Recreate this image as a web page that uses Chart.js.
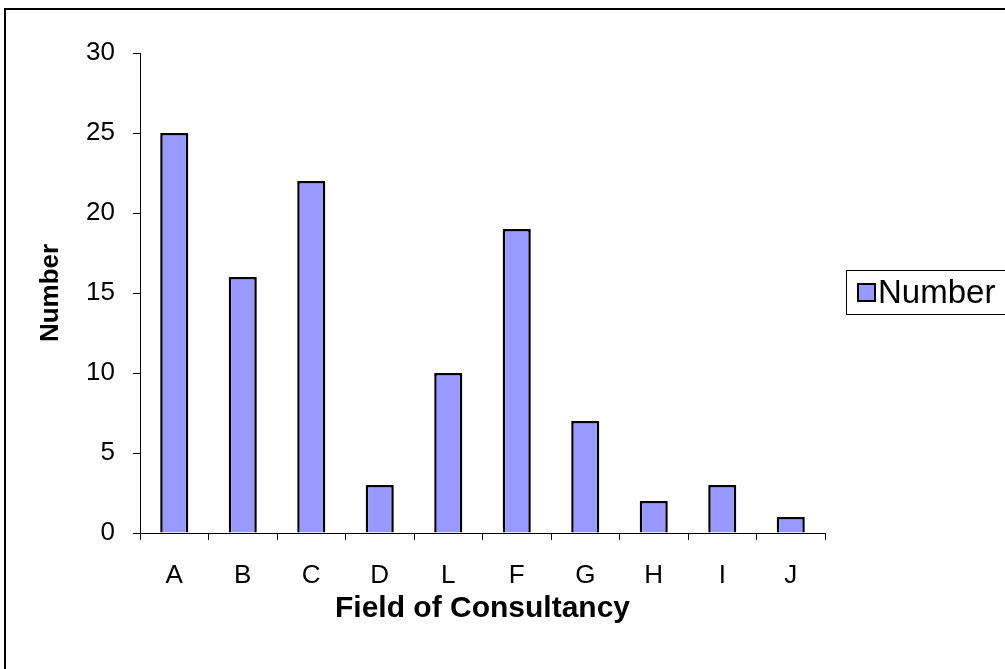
<!DOCTYPE html>
<html>
<head>
<meta charset="utf-8">
<script src="https://cdn.jsdelivr.net/npm/chart.js@4"></script>
<style>
  html, body { margin: 0; padding: 0; background: #fff; }
  #wrap { width: 1005px; height: 669px; position: relative; }
</style>
</head>
<body>
<div id="wrap"><canvas id="chart" width="1005" height="669"></canvas></div>
<script>
const categories = ["A", "B", "C", "D", "L", "F", "G", "H", "I", "J"];
const numbers = [25, 16, 22, 3, 10, 19, 7, 2, 3, 1];
const yTicks = [0, 5, 10, 15, 20, 25, 30];

const font = "'Liberation Sans', Arial, sans-serif";

// frame around the chart plus the boxed legend on the right
const extras = {
  id: "extras",
  afterDraw(chart) {
    const c = chart.ctx;
    c.save();
    c.strokeStyle = "#000";
    c.lineWidth = 2;
    c.beginPath();
    c.moveTo(5, 669);
    c.lineTo(5, 9);
    c.lineTo(1005, 9);
    c.stroke();

    c.lineWidth = 1;
    c.strokeRect(846.5, 270.5, 170, 44);
    const ds = chart.data.datasets[0];
    c.fillStyle = ds.backgroundColor;
    c.fillRect(858, 284, 17, 17);
    c.lineWidth = 2;
    c.strokeRect(858, 284, 17, 17);
    c.fillStyle = "#000";
    c.font = "33px " + font;
    c.textBaseline = "middle";
    c.fillText(ds.label, 878, 294);
    c.restore();
  }
};

new Chart(document.getElementById("chart"), {
  type: "bar",
  data: {
    labels: categories,
    datasets: [{
      label: "Number",
      data: numbers,
      backgroundColor: "#9999ff",
      borderColor: "#000",
      borderWidth: 2.5,
      barPercentage: 0.41,
      categoryPercentage: 1
    }]
  },
  options: {
    responsive: false,
    animation: false,
    layout: { padding: { top: 53, right: 180, left: 0, bottom: 0 } },
    plugins: {
      legend: { display: false },
      tooltip: { enabled: false }
    },
    scales: {
      x: {
        afterFit(s) { s.height = 136; },
        border: { display: true, color: "#000", width: 1 },
        grid: { display: true, drawOnChartArea: false, drawTicks: true, tickLength: 7, color: "#000", offset: true },
        ticks: { color: "#000", font: { family: font, size: 26 }, padding: 20, maxRotation: 0 },
        title: {
          display: true,
          text: "Field of Consultancy",
          color: "#000",
          font: { family: font, size: 30, weight: "bold" },
          padding: { top: 0, bottom: 42 }
        }
      },
      y: {
        min: 0,
        max: 30,
        afterFit(s) { s.width = 140; },
        afterBuildTicks(s) { s.ticks = yTicks.map(v => ({ value: v })); },
        border: { display: true, color: "#000", width: 1 },
        grid: { display: true, drawOnChartArea: false, drawTicks: true, tickLength: 7, color: "#000" },
        ticks: { color: "#000", font: { family: font, size: 26 }, padding: 18 },
        title: {
          display: true,
          text: "Number",
          color: "#000",
          font: { family: font, size: 26, weight: "bold" },
          padding: { top: 35, bottom: 0 }
        }
      }
    }
  },
  plugins: [extras]
});
</script>
</body>
</html>
